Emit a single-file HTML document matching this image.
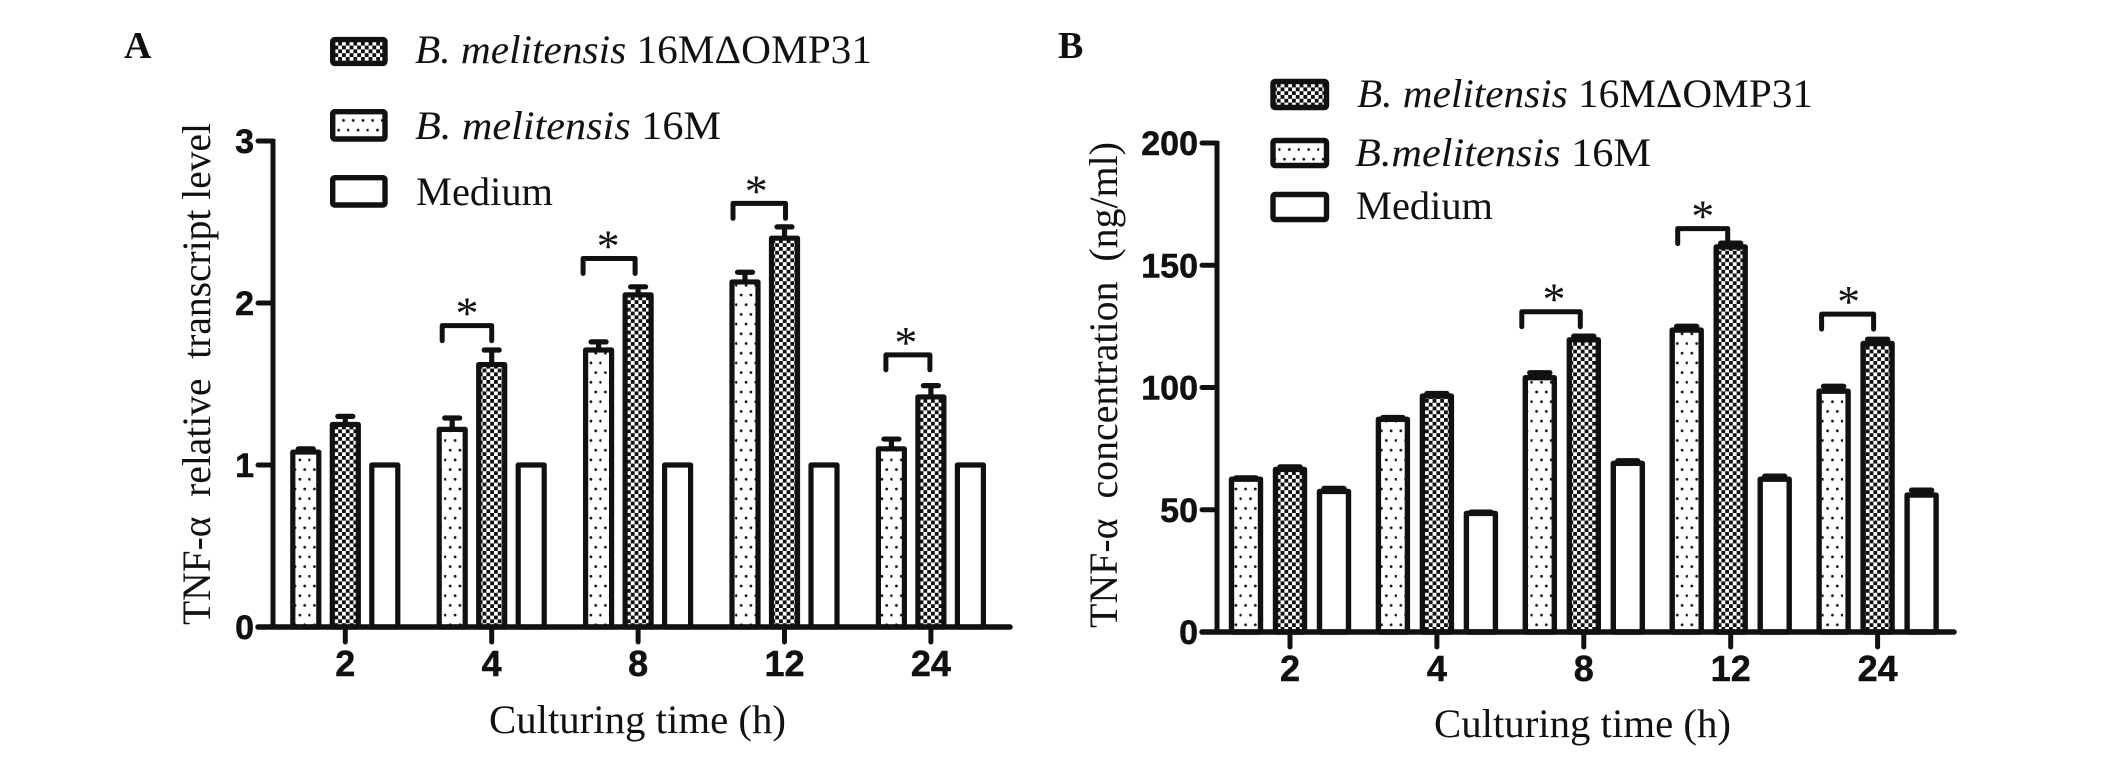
<!DOCTYPE html>
<html lang="en">
<head>
<meta charset="utf-8">
<title>TNF-alpha charts</title>
<style>
html,body{margin:0;padding:0;background:#fff;}
svg{display:block;}
.serif{font-family:"Liberation Serif",serif;fill:#111;}
.sans{font-family:"Liberation Sans",sans-serif;font-weight:700;fill:#111;stroke:#111;stroke-width:0.5px;}
</style>
</head>
<body>
<svg id="chart" xmlns="http://www.w3.org/2000/svg" width="2126" height="757" viewBox="0 0 2126 757">
  <defs>
    <pattern id="pat-dots" patternUnits="userSpaceOnUse" width="19.4" height="19.4">
      <circle cx="4" cy="4" r="1.4" fill="#111"/>
      <circle cx="13.7" cy="4" r="1.4" fill="#111"/>
      <circle cx="8.9" cy="13.7" r="1.4" fill="#111"/>
      <circle cx="18.6" cy="13.7" r="1.4" fill="#111"/>
    </pattern>
    <pattern id="pat-checker" patternUnits="userSpaceOnUse" width="7.6" height="7.6">
      <rect width="7.6" height="7.6" fill="#fff"/>
      <rect x="0" y="0" width="3.8" height="3.8" fill="#111"/>
      <rect x="3.8" y="3.8" width="3.8" height="3.8" fill="#111"/>
    </pattern>
  </defs>

  <rect x="0" y="0" width="2126" height="757" fill="#fff"/>

  <text class="serif" x="124" y="58" font-size="38" font-weight="700">A</text>
  <text class="serif" x="1058" y="58" font-size="38" font-weight="700">B</text>

  <g>
    <rect x="332.7" y="39.6" width="52.3" height="23.8" rx="2" fill="url(#pat-checker)" stroke="#111" stroke-width="5.4"/>
    <text class="serif" x="415" y="63" font-size="40" textLength="457" lengthAdjust="spacingAndGlyphs" xml:space="preserve"><tspan font-style="italic">B. melitensis</tspan> 16MΔOMP31</text>
    <rect x="332.7" y="111.7" width="52.3" height="27.3" rx="2" fill="url(#pat-dots)" stroke="#111" stroke-width="5.4"/>
    <text class="serif" x="415" y="139" font-size="40" textLength="306" lengthAdjust="spacingAndGlyphs" xml:space="preserve"><tspan font-style="italic">B. melitensis</tspan> 16M</text>
    <rect x="332.7" y="177.7" width="52.3" height="27.3" rx="2" fill="#fff" stroke="#111" stroke-width="5.4"/>
    <text class="serif" x="416" y="205" font-size="40" textLength="137" lengthAdjust="spacingAndGlyphs">Medium</text>
  </g>

  <g>
    <rect x="1273" y="81.5" width="53.5" height="26" rx="2" fill="url(#pat-checker)" stroke="#111" stroke-width="5.4"/>
    <text class="serif" x="1357" y="107" font-size="40" textLength="456" lengthAdjust="spacingAndGlyphs" xml:space="preserve"><tspan font-style="italic">B. melitensis</tspan> 16MΔOMP31</text>
    <rect x="1273" y="140.5" width="53.5" height="25" rx="2" fill="url(#pat-dots)" stroke="#111" stroke-width="5.4"/>
    <text class="serif" x="1355" y="166" font-size="40" textLength="296" lengthAdjust="spacingAndGlyphs" xml:space="preserve"><tspan font-style="italic">B.melitensis</tspan> 16M</text>
    <rect x="1273" y="194.5" width="53.5" height="25" rx="2" fill="#fff" stroke="#111" stroke-width="5.4"/>
    <text class="serif" x="1356" y="219" font-size="40" textLength="137" lengthAdjust="spacingAndGlyphs">Medium</text>
  </g>

  <text class="serif" transform="translate(210,625) rotate(-90)" font-size="40" textLength="502" lengthAdjust="spacingAndGlyphs" xml:space="preserve">TNF-α  relative  transcript level</text>
  <text class="serif" x="489" y="733" font-size="40" textLength="297" lengthAdjust="spacingAndGlyphs">Culturing time (h)</text>

  <text class="serif" transform="translate(1117,628) rotate(-90)" font-size="40" textLength="486" lengthAdjust="spacingAndGlyphs" xml:space="preserve">TNF-α  concentration  (ng/ml)</text>
  <text class="serif" x="1434" y="737" font-size="40" textLength="297" lengthAdjust="spacingAndGlyphs">Culturing time (h)</text>

  <g id="panel-a"></g>
  <g id="panel-b"></g>
</svg>

<script>
var categories = ['2', '4', '8', '12', '24'];

var yTicksA = [0, 1, 2, 3];
var dottedA = [1.08, 1.22, 1.71, 2.13, 1.10];
var checkerA = [1.25, 1.62, 2.05, 2.40, 1.42];
var mediumA = [1.0, 1.0, 1.0, 1.0, 1.0];
var dottedErrA = [0.02, 0.07, 0.05, 0.06, 0.06];
var checkerErrA = [0.05, 0.09, 0.05, 0.07, 0.07];
var mediumErrA = [0, 0, 0, 0, 0];
var bracketLevelA = [null, 1.86, 2.275, 2.615, 1.68];

var yTicksB = [0, 50, 100, 150, 200];
var dottedB = [62.5, 87, 104, 123.5, 98.5];
var checkerB = [66.5, 96.5, 119.5, 157.5, 118];
var mediumB = [57.5, 48.5, 69, 62.5, 56];
var dottedErrB = [0.5, 0.7, 2, 1.5, 2];
var checkerErrB = [1, 1, 1.5, 1.5, 1.7];
var mediumErrB = [1.2, 0.5, 1, 1.2, 2];
var bracketLevelB = [null, null, 131, 165, 130];

var SVGNS = 'http://www.w3.org/2000/svg';

function make(parent, tag, attrs) {
  var el = document.createElementNS(SVGNS, tag);
  for (var key in attrs) { el.setAttribute(key, attrs[key]); }
  parent.appendChild(el);
  return el;
}

function drawPanel(root, cfg, dotted, checker, medium, dottedErr, checkerErr, mediumErr, yTicks, brackets) {
  var yScale = function (v) {
    return cfg.y0 - (v / yTicks[yTicks.length - 1]) * (cfg.y0 - cfg.yTop);
  };
  var xScale = function (i) { return cfg.x0 + i * cfg.step; };
  var el;

  var seriesList = [
    { key: 'dotted', values: dotted, errs: dottedErr, fill: 'url(#pat-dots)', off: -cfg.gap },
    { key: 'checker', values: checker, errs: checkerErr, fill: 'url(#pat-checker)', off: 0 },
    { key: 'medium', values: medium, errs: mediumErr, fill: '#fff', off: cfg.gap }
  ];

  seriesList.forEach(function (s) {
    s.values.forEach(function (v, i) {
      var cx = xScale(i) + s.off;
      var top = yScale(v);
      if (s.errs[i] > 0) {
        var errTop = yScale(v + s.errs[i]);
        el = make(root, 'line', { x1: cx, x2: cx, y1: top, y2: errTop, stroke: '#111', 'stroke-width': cfg.stroke });
        
        
        el = make(root, 'line', { x1: cx - cfg.cap / 2, x2: cx + cfg.cap / 2, y1: errTop, y2: errTop, stroke: '#111', 'stroke-width': cfg.stroke, 'stroke-linecap': 'round' });
        
        
      }
      el = make(root, 'rect', { x: cx - cfg.barW / 2, y: top, width: cfg.barW, height: cfg.y0 - top, fill: s.fill, stroke: '#111', 'stroke-width': cfg.stroke, 'stroke-linejoin': 'round' });
      
      
    });
  });

  el = make(root, 'line', { x1: cfg.axisX, x2: cfg.axisX, y1: yScale(yTicks[yTicks.length - 1]) - 2, y2: cfg.y0, stroke: '#111', 'stroke-width': 5 });
  
  

  el = make(root, 'line', { x1: cfg.baseL, x2: cfg.baseR, y1: cfg.y0, y2: cfg.y0, stroke: '#111', 'stroke-width': 5.5, 'stroke-linecap': 'round' });
  
  

  yTicks.forEach(function (t) {
    var y = yScale(t);
    el = make(root, 'line', { x1: cfg.baseL, x2: cfg.axisX, y1: y, y2: y, stroke: '#111', 'stroke-width': 5, 'stroke-linecap': 'round' });
    
    
    el = make(root, 'text', { x: cfg.baseL - 4, y: y + 12, 'text-anchor': 'end', 'font-size': 34, 'class': 'sans' });
    el.textContent = String(t);
    
    
  });

  categories.forEach(function (c, i) {
    var x = xScale(i);
    el = make(root, 'line', { x1: x, x2: x, y1: cfg.y0, y2: cfg.y0 + 15, stroke: '#111', 'stroke-width': 5, 'stroke-linecap': 'round' });
    
    
    el = make(root, 'text', { x: x, y: cfg.y0 + 49, 'text-anchor': 'middle', 'font-size': 36, 'class': 'sans' });
    el.textContent = c;
    
    
  });

  brackets.forEach(function (level, i) {
    if (level === null) { return; }
    var left = xScale(i) + cfg.bracketLeft[i];
    var right = xScale(i) + cfg.bracketRight[i];
    var top = yScale(level);
    el = make(root, 'path', {
      d: 'M' + left + ' ' + (top + 15) + 'V' + top + 'H' + right + 'V' + (top + 15),
      fill: 'none', stroke: '#111', 'stroke-width': 5, 'stroke-linecap': 'round', 'stroke-linejoin': 'round'
    });
    
    
    el = make(root, 'text', { x: (left + right) / 2 + cfg.starNudge[i], y: top + 3, 'text-anchor': 'middle', 'font-size': 46, 'class': 'serif' });
    el.textContent = '*';
    
    
  });
}

drawPanel(document.getElementById('panel-a'),
  { x0: 345.3, step: 146.4, gap: 39.5, barW: 26, stroke: 5.2, cap: 15, y0: 627, yTop: 141, axisX: 273, baseL: 258, baseR: 1010,
    bracketLeft: [0, -49.5, -55, -51.5, -45], bracketRight: [0, 0, -3, 1, -1], starNudge: [0, 0, -1, -3, -2] },
  dottedA, checkerA, mediumA, dottedErrA, checkerErrA, mediumErrA, yTicksA, bracketLevelA);

drawPanel(document.getElementById('panel-b'),
  { x0: 1290, step: 146.9, gap: 44, barW: 29, stroke: 5.4, cap: 20, y0: 632, yTop: 143, axisX: 1217, baseL: 1202, baseR: 1954,
    bracketLeft: [0, 0, -62, -53, -56], bracketRight: [0, 0, -3.5, -3, -4], starNudge: [0, 0, 3, 0, 1] },
  dottedB, checkerB, mediumB, dottedErrB, checkerErrB, mediumErrB, yTicksB, bracketLevelB);
</script>
</body>
</html>
